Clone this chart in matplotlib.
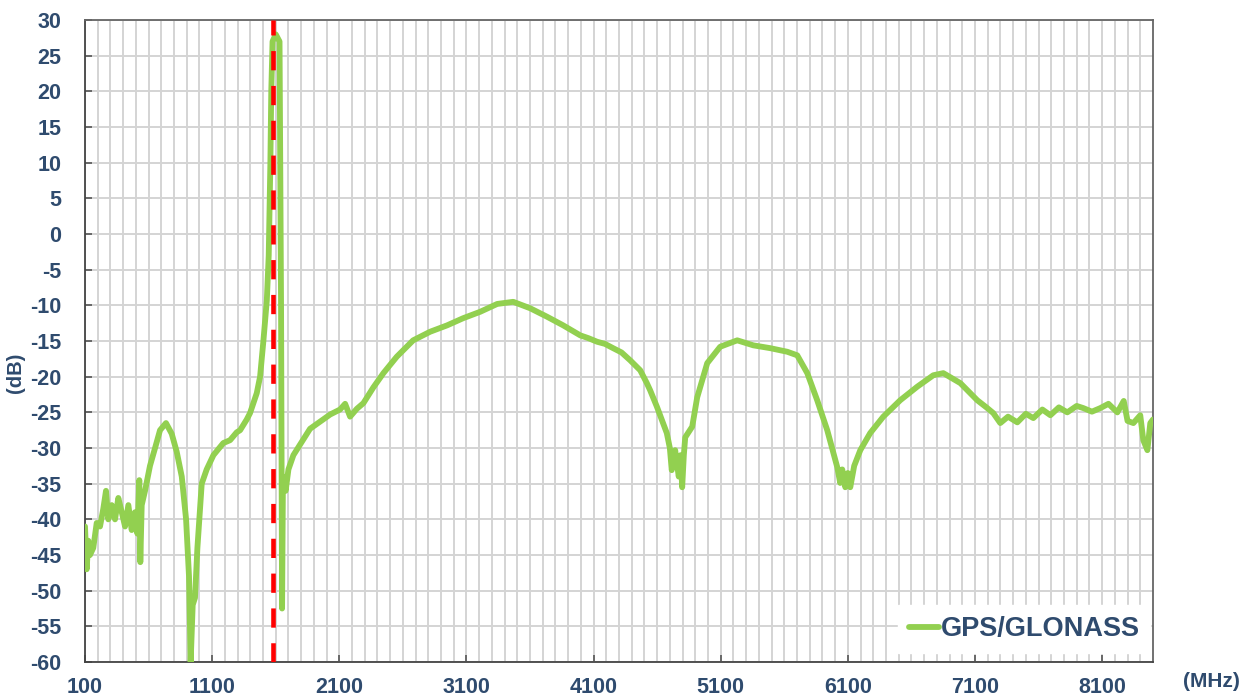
import matplotlib.pyplot as plt
import numpy as np

# frequency (MHz) and gain (dB)
freq = [100, 113, 126, 139, 165, 192, 218, 244, 265, 283, 310, 336, 362, 389, 415, 441,
        467, 493, 512, 527, 535, 546, 572, 611, 651, 690, 737, 782, 821, 861, 895, 918,
        931, 947, 965, 984, 1018, 1057, 1110, 1188, 1241, 1293, 1320, 1372, 1398, 1451,
        1477, 1503, 1530, 1545, 1558, 1565, 1575, 1600, 1630, 1642, 1650, 1657, 1666,
        1678, 1700, 1739, 1792, 1870, 1949, 2028, 2106, 2146, 2185, 2238, 2290, 2368,
        2447, 2552, 2681, 2814, 2948, 3074, 3208, 3342, 3468, 3601, 3735, 3861, 3995,
        4060, 4128, 4190, 4254, 4320, 4388, 4467, 4519, 4545, 4598, 4676, 4700, 4715,
        4742, 4770, 4785, 4797, 4810, 4821, 4876, 4915, 4994, 5096, 5230, 5356, 5490,
        5623, 5702, 5781, 5859, 5938, 6017, 6040, 6056, 6080, 6100, 6119, 6150, 6198,
        6276, 6379, 6512, 6646, 6772, 6851, 6985, 7118, 7190, 7244, 7299, 7360, 7433,
        7500, 7559, 7630, 7693, 7760, 7826, 7900, 7952, 8020, 8086, 8150, 8220, 8270,
        8300, 8346, 8400, 8424, 8456, 8479, 8500]
gain = [-41, -47, -43, -45, -44, -40.5, -41, -38.5, -36, -40, -38, -40, -37, -39, -41, -38,
        -41.5, -39, -42, -34.5, -46, -38, -36, -32.5, -30, -27.5, -26.5, -28, -30.5, -34,
        -40, -48, -60, -52, -51, -44, -35, -33, -31, -29.3, -28.9, -27.8, -27.5, -26, -25.1,
        -22.3, -20, -15, -9.3, -3, 10, 20, 27, 28, 27, -10, -52.5, -34, -35,
        -36, -33, -31, -29.5, -27.3, -26.3, -25.3, -24.6, -23.8, -25.6, -24.5, -23.7, -21.5,
        -19.5, -17.2, -14.9, -13.7, -12.8, -11.8, -10.9, -9.8, -9.5, -10.4, -11.6, -12.8, -14.2,
        -14.6, -15.1, -15.4, -16, -16.6, -17.7, -19.1, -20.9, -21.9, -24.2, -27.9, -30, -33.1,
        -30.3, -34, -31, -35.5, -31, -28.5, -27, -22.9, -18.1, -15.8, -14.9, -15.6, -16,
        -16.5, -17, -19.5, -23.3, -27.5, -32.7, -34.9, -33, -35.5, -33.5, -35.5, -32.5, -30.3,
        -27.9, -25.6, -23.3, -21.4, -19.8, -19.5, -20.9, -23.3, -24.3, -25.1, -26.5, -25.6, -26.4,
        -25.2, -25.8, -24.6, -25.4, -24.3, -25, -24.1, -24.4, -24.9, -24.4, -23.8, -25, -23.4,
        -26.2, -26.5, -25.4, -28.9, -30.3, -26.5, -26]

marker_freq = 1580  # GPS/GLONASS band marker
xticks = list(range(100, 8200, 1000))
yticks = list(range(-60, 31, 5))

text_color = '#2F4B6E'
plt.rcParams['font.family'] = ['Liberation Sans', 'DejaVu Sans']
plt.rcParams['axes.unicode_minus'] = False

fig = plt.figure(figsize=(12.52, 6.97), dpi=100)
ax = fig.add_axes([0.0679, 0.0502, 0.853, 0.921])

ax.plot(freq, gain, color='#92D050', lw=4.2, solid_joinstyle='round', solid_capstyle='round',
        label='GPS/GLONASS', zorder=3)
ax.axvline(marker_freq, color='#FF0000', lw=3.3, dashes=(4.2, 3.4), zorder=4)

ax.set_xlim(100, 8500)
ax.set_ylim(-60, 30)
ax.set_xticks(xticks)
ax.set_xticks(range(100, 8500, 100), minor=True)
ax.set_yticks(yticks)
ax.grid(True, which='both', axis='x', color='#D4D4D4', lw=1.4)
ax.grid(True, which='major', axis='y', color='#D4D4D4', lw=1.4)
ax.set_axisbelow(True)

ax.tick_params(axis='both', which='major', direction='in', length=5, width=1.2, color='#555555',
               labelsize=15.5, labelcolor=text_color)
ax.tick_params(axis='y', pad=17)
ax.tick_params(axis='x', which='minor', length=0)
ax.tick_params(axis='x', pad=11)
for lbl in ax.get_xticklabels() + ax.get_yticklabels():
    lbl.set_fontweight('bold')

for s in ax.spines.values():
    s.set_color('#666666')
    s.set_linewidth(1.3)
ax.spines['left'].set_color('#444444')
ax.spines['bottom'].set_color('#444444')

ax.set_ylabel('(dB)', fontsize=14.5, fontweight='bold', color=text_color)
ax.yaxis.set_label_coords(-0.056, 0.45)
fig.text(0.968, 0.008, '(MHz)', fontsize=15, fontweight='bold', color=text_color,
         ha='center', va='bottom')

leg = ax.legend(loc='lower right', bbox_to_anchor=(1.0, 0.01), frameon=True, framealpha=1,
                edgecolor='white', fancybox=False, handlelength=1.1, handletextpad=0.05,
                borderaxespad=0.1, prop={'weight': 'bold', 'size': 19.5})
for t in leg.get_texts():
    t.set_color(text_color)

plt.savefig('out.png', dpi=100)
